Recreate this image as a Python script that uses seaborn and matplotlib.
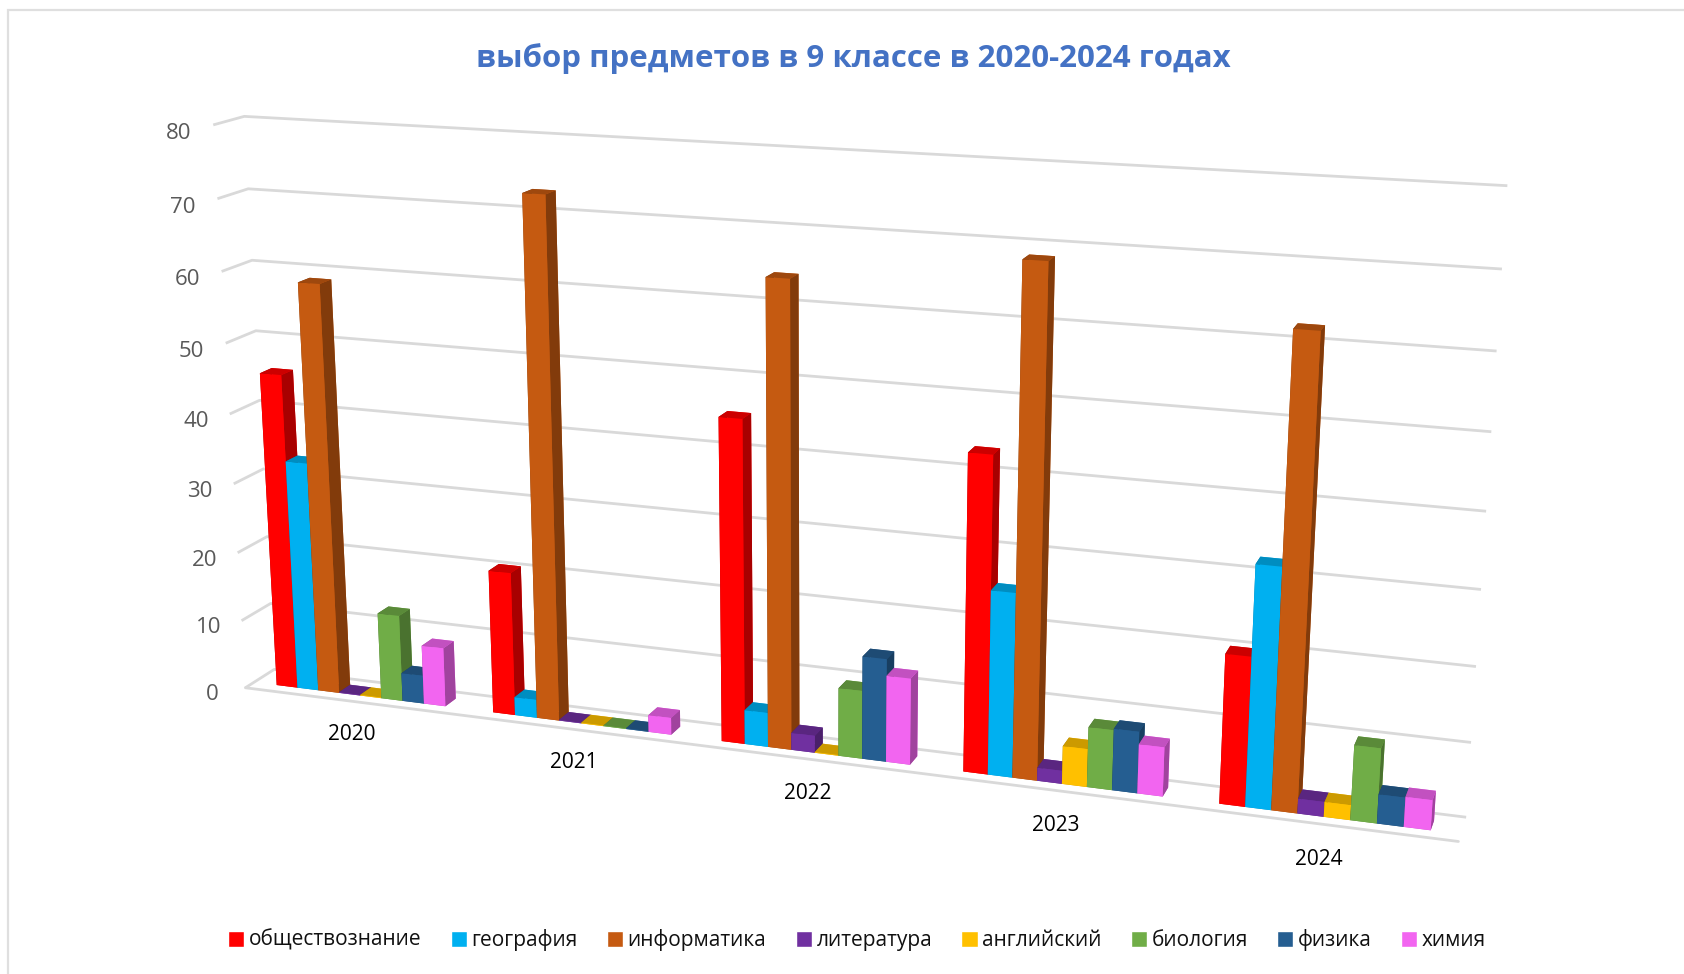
import numpy as np
import matplotlib
matplotlib.use("Agg")
import matplotlib.pyplot as plt
from matplotlib.patches import Patch, Rectangle
import seaborn as sns

years = ["2020", "2021", "2022", "2023", "2024"]
subjects = ["обществознание", "география", "информатика", "литература",
            "английский", "биология", "физика", "химия"]
obshchestvo = [45.5, 20.5, 45, 43.2, 20.1]
geografiya = [33.2, 2.6, 4.8, 25.2, 32.2]
informatika = [58.7, 72.9, 64, 68.5, 62.2]
literatura = [0.1, 0.1, 2.4, 1.8, 2]
angliyskiy = [0.1, 0.1, 0.1, 5.2, 2]
biologiya = [12.5, 0.1, 9.5, 8.2, 10]
fizika = [4.1, 0.1, 14.3, 8.4, 3.9]
khimiya = [8.5, 2.4, 12, 6.7, 4]
series = [obshchestvo, geografiya, informatika, literatura,
          angliyskiy, biologiya, fizika, khimiya]
hex_colors = ["#FF0000", "#00B0F0", "#C55A11", "#7030A0",
              "#FFC000", "#70AD47", "#255E91", "#F265F0"]
z_ticks = [0, 10, 20, 30, 40, 50, 60, 70, 80]

sns.set_theme(style="white")
plt.rcParams["font.family"] = ["Open Sans", "DejaVu Sans"]
palette = sns.color_palette(hex_colors)

W, H = 1684, 974
S = 1400
fig = plt.figure(figsize=(W / 100, H / 100), dpi=100)
cx, cy = 800, 478.5
ax = fig.add_axes([(cx - S / 2) / W, (H - cy - S / 2) / H, S / W, S / H],
                  projection="3d", computed_zorder=False)
ax.patch.set_alpha(0)
ax.set_proj_type("persp", focal_length=0.374)
ax.view_init(elev=15.4, azim=-71)
ax.set_box_aspect((1.258, 0.0606, 0.596))

bar_w = 0.098
gap = 0.1075
for i in range(len(years)):
    for j, vals in enumerate(series):
        c = np.array(palette[j])
        front = tuple(c)
        top = tuple(c * 0.8)
        side = tuple(c * 0.66)
        # left to right, each bar covers the side of the one before it
        ax.bar3d(i + gap + j * bar_w, 0.3, 0, bar_w, 0.4, vals[i],
                 color=[top, top, front, front, side, side],
                 shade=False, linewidth=0, edgecolor="none", zorder=10 + i * 8 + j)

ax.set_xlim(0, 5)
ax.set_ylim(0, 1)
ax.set_zlim(0, 80)
ax.set_xticks(np.arange(5) + 0.5, years)
ax.set_yticks([])
ax.set_zticks(z_ticks)
ax.zaxis.set_ticks_position("lower")
ax.tick_params(axis="x", labelsize=15, labelcolor="black", pad=13)
ax.tick_params(axis="z", labelsize=16, labelcolor="#595959", pad=8)
for axis in (ax.xaxis, ax.yaxis, ax.zaxis):
    axis.pane.set_visible(False)
    axis._axinfo["tick"]["inward_factor"] = 0
    axis._axinfo["tick"]["outward_factor"] = 0
    axis._axinfo["grid"].update(color="#D9D9D9", linewidth=2)
ax.xaxis._axinfo["grid"].update(color=(1, 1, 1, 0), linewidth=0)
ax.yaxis._axinfo["grid"].update(color=(1, 1, 1, 0), linewidth=0)
ax.xaxis.line.set_color("#D9D9D9")
ax.xaxis.line.set_linewidth(2)
ax.yaxis.line.set_color((1, 1, 1, 0))
ax.zaxis.line.set_color((1, 1, 1, 0))

fig.text(853 / W, 1 - 59 / H, "выбор предметов в 9 классе в 2020-2024 годах",
         color="#4472C4", fontsize=22.5, fontweight="bold", ha="center", va="center")

handles = [Patch(facecolor=palette[j], label=subjects[j]) for j in range(len(subjects))]
fig.legend(handles=handles, loc="center", bbox_to_anchor=(857 / W, 1 - 940 / H),
           ncol=8, frameon=False, fontsize=15, handlelength=0.78, handleheight=0.78,
           handletextpad=0.22, columnspacing=1.4, labelcolor="#111111")

fig.add_artist(Rectangle((7.5 / W, -0.1), 1.2, 1.1 - 10 / H, transform=fig.transFigure,
                         fill=False, edgecolor="#DFDFDF", linewidth=1.6))
fig.savefig("out.png", dpi=100)
